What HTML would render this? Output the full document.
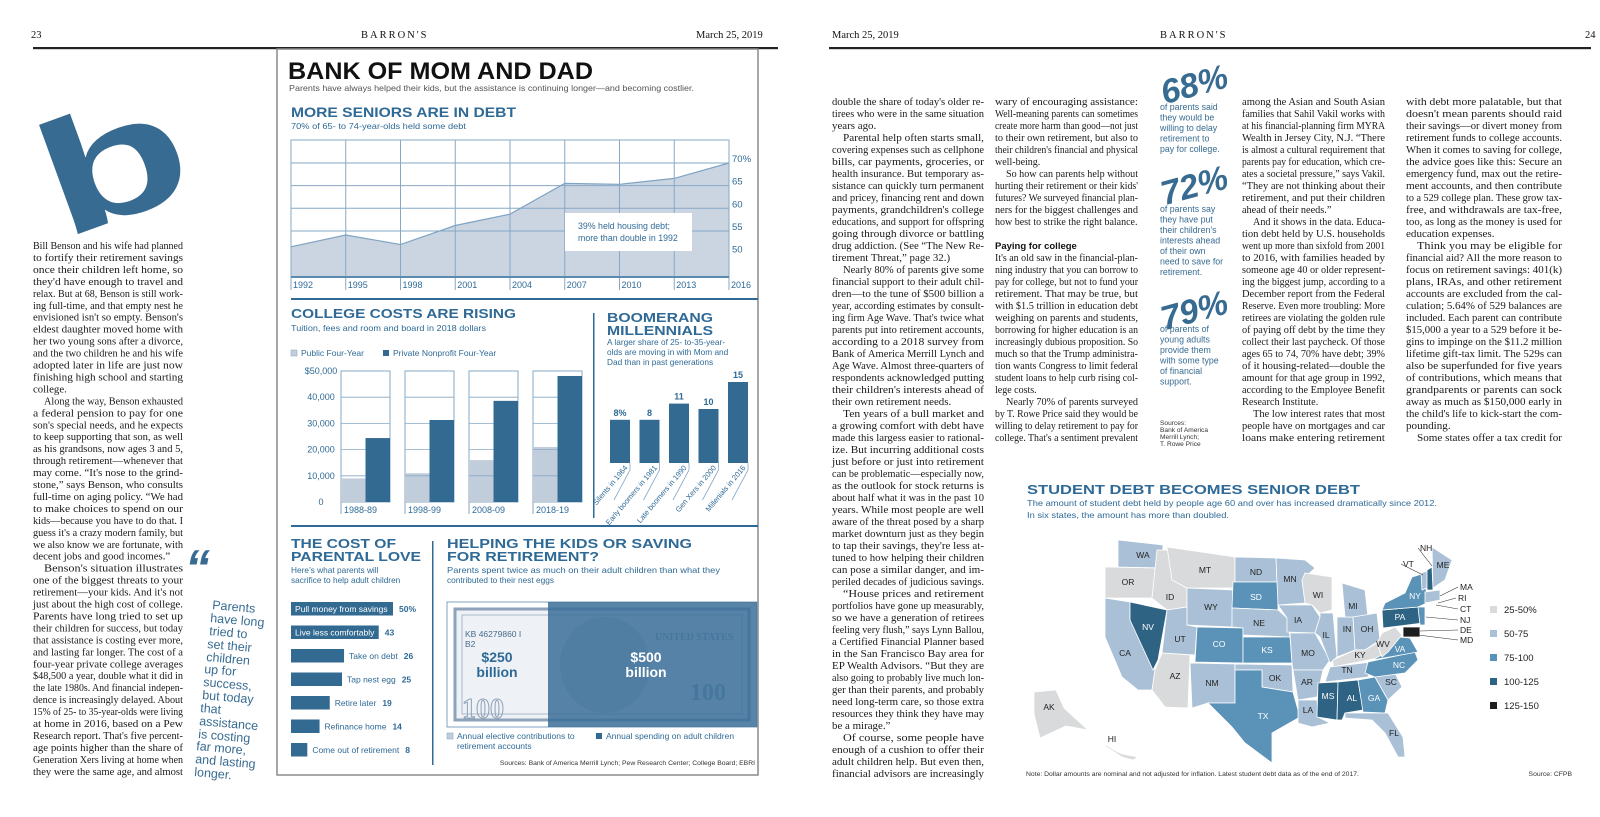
<!DOCTYPE html>
<html><head><meta charset="utf-8"><style>
html,body{margin:0;padding:0;background:#fff;}
svg{display:block;}
.serif{font-family:"Liberation Serif",serif;}
.sans{font-family:"Liberation Sans",sans-serif;}
</style></head><body>
<svg id="page" width="1600" height="817" viewBox="0 0 1600 817" xmlns="http://www.w3.org/2000/svg">
<!-- header -->
<g class="serif" font-size="10.5" fill="#111">
<text x="31" y="38">23</text>
<text x="361" y="38" letter-spacing="2">BARRON'S</text>
<text x="696" y="38">March 25, 2019</text>
<text x="832" y="38">March 25, 2019</text>
<text x="1160" y="38" letter-spacing="2">BARRON'S</text>
<text x="1585" y="38">24</text>
<rect x="33" y="47" width="745" height="2.2" fill="#222"/>
<rect x="829" y="47" width="762" height="2.2" fill="#222"/>
</g>
<!-- drop cap -->
<text class="sans" font-weight="bold" font-size="160" fill="#376b91" text-anchor="middle" y="58" transform="translate(112,160) rotate(-20) scale(1.5,1)">b</text>
<!-- pull quote -->
<g class="sans" fill="#376b91" font-size="12.5">
<text x="185" y="585" font-size="50" font-weight="bold" font-style="italic">“</text>
<text x="212" y="609" transform="rotate(5 212 609)">Parents</text>
<text x="210" y="622" transform="rotate(5 210 622)">have long</text>
<text x="209" y="635" transform="rotate(5 209 635)">tried to</text>
<text x="207" y="648" transform="rotate(5 207 648)">set their</text>
<text x="206" y="661" transform="rotate(5 206 661)">children</text>
<text x="204" y="673" transform="rotate(5 204 673)">up for</text>
<text x="203" y="686" transform="rotate(5 203 686)">success,</text>
<text x="202" y="699" transform="rotate(5 202 699)">but today</text>
<text x="200" y="712" transform="rotate(5 200 712)">that</text>
<text x="199" y="725" transform="rotate(5 199 725)">assistance</text>
<text x="198" y="738" transform="rotate(5 198 738)">is costing</text>
<text x="196" y="750" transform="rotate(5 196 750)">far more,</text>
<text x="195" y="763" transform="rotate(5 195 763)">and lasting</text>
<text x="194" y="776" transform="rotate(5 194 776)">longer.</text>
</g>
<!-- infographic box -->
<rect x="277" y="49" width="481" height="726" fill="none" stroke="#8a8a8a" stroke-width="1.5"/>
<g class="sans">
<text x="288" y="79" font-size="24" font-weight="bold" fill="#111" textLength="305" lengthAdjust="spacingAndGlyphs">BANK OF MOM AND DAD</text>
<text x="289" y="91" font-size="8.5" fill="#555" textLength="405" lengthAdjust="spacingAndGlyphs">Parents have always helped their kids, but the assistance is continuing longer—and becoming costlier.</text>
<text x="291" y="117" font-size="14" font-weight="bold" fill="#2f6a96" textLength="225" lengthAdjust="spacingAndGlyphs">MORE SENIORS ARE IN DEBT</text>
<text x="291" y="129" font-size="8.5" fill="#2f6a96" textLength="175" lengthAdjust="spacingAndGlyphs">70% of 65- to 74-year-olds held some debt</text>
<rect x="291" y="298" width="467" height="2" fill="#2f6a96"/>
<text x="291" y="318" font-size="13" font-weight="bold" fill="#2f6a96" textLength="225" lengthAdjust="spacingAndGlyphs">COLLEGE COSTS ARE RISING</text>
<text x="291" y="331" font-size="8.5" fill="#2f6a96" textLength="195" lengthAdjust="spacingAndGlyphs">Tuition, fees and room and board in 2018 dollars</text>
<rect x="291" y="350" width="6" height="6" fill="#c2cddc" stroke="#7fa3c2" stroke-width="0.5"/>
<text x="301" y="356" font-size="8.5" fill="#2f6a96">Public Four-Year</text>
<rect x="383" y="350" width="6" height="6" fill="#336a91"/>
<text x="393" y="356" font-size="8.5" fill="#2f6a96">Private Nonprofit Four-Year</text>
<rect x="593" y="313" width="1.5" height="205" fill="#2f6a96"/>
<text x="607" y="322" font-size="13" font-weight="bold" fill="#2f6a96" textLength="106" lengthAdjust="spacingAndGlyphs">BOOMERANG</text>
<text x="607" y="335" font-size="13" font-weight="bold" fill="#2f6a96" textLength="106" lengthAdjust="spacingAndGlyphs">MILLENNIALS</text>
<text x="607" y="345" font-size="8.3" fill="#2f6a96">A larger share of 25- to-35-year-</text>
<text x="607" y="355" font-size="8.3" fill="#2f6a96">olds are moving in with Mom and</text>
<text x="607" y="365" font-size="8.3" fill="#2f6a96">Dad than in past generations</text>
<rect x="291" y="525" width="467" height="2" fill="#2f6a96"/>
<text x="291" y="548" font-size="13" font-weight="bold" fill="#2f6a96" textLength="105" lengthAdjust="spacingAndGlyphs">THE COST OF</text>
<text x="291" y="561" font-size="13" font-weight="bold" fill="#2f6a96" textLength="130" lengthAdjust="spacingAndGlyphs">PARENTAL LOVE</text>
<text x="291" y="573" font-size="8.3" fill="#2f6a96">Here’s what parents will</text>
<text x="291" y="583" font-size="8.3" fill="#2f6a96">sacrifice to help adult children</text>
<rect x="432" y="541" width="1.5" height="224" fill="#2f6a96"/>
<text x="447" y="548" font-size="13" font-weight="bold" fill="#2f6a96" textLength="245" lengthAdjust="spacingAndGlyphs">HELPING THE KIDS OR SAVING</text>
<text x="447" y="561" font-size="13" font-weight="bold" fill="#2f6a96" textLength="152" lengthAdjust="spacingAndGlyphs">FOR RETIREMENT?</text>
<text x="447" y="573" font-size="8.3" fill="#2f6a96" textLength="273" lengthAdjust="spacingAndGlyphs">Parents spent twice as much on their adult children than what they</text>
<text x="447" y="583" font-size="8.3" fill="#2f6a96">contributed to their nest eggs</text>
</g>
<!-- dollar bill -->
<g>
<rect x="447" y="602" width="310" height="125" fill="#fff" stroke="#7fa3c2" stroke-width="1"/>
<rect x="455" y="609" width="294" height="111" fill="#eef1f5" stroke="#8ea3ba" stroke-width="3"/>
<rect x="462" y="615" width="280" height="99" fill="none" stroke="#a9b8c9" stroke-width="1"/>
<ellipse cx="605" cy="665" rx="45" ry="48" fill="#c9d3de"/>
<text x="462" y="718" class="serif" font-size="28" font-weight="bold" fill="none" stroke="#8ea3ba">100</text>
<text x="690" y="700" class="serif" font-size="24" font-weight="bold" fill="#8ea3ba">100</text>
<text x="465" y="637" class="sans" font-size="8.5" fill="#4a6b8c">KB 46279860 I</text>
<text x="465" y="647" class="sans" font-size="8.5" fill="#4a6b8c">B2</text>
<text x="655" y="640" class="serif" font-size="10" font-weight="bold" fill="#8ea3ba">UNITED STATES</text>
<rect x="548" y="602" width="209" height="125" fill="#3a6e98" opacity="0.85"/>
<text x="497" y="662" class="sans" font-size="14" font-weight="bold" fill="#2f6a96" text-anchor="middle">$250</text>
<text x="497" y="677" class="sans" font-size="14" font-weight="bold" fill="#2f6a96" text-anchor="middle">billion</text>
<text x="646" y="662" class="sans" font-size="14" font-weight="bold" fill="#fff" text-anchor="middle">$500</text>
<text x="646" y="677" class="sans" font-size="14" font-weight="bold" fill="#fff" text-anchor="middle">billion</text>
<rect x="447" y="733" width="6" height="6" fill="#c2cddc" stroke="#7fa3c2" stroke-width="0.5"/>
<text x="457" y="739" class="sans" font-size="8.5" fill="#2f6a96">Annual elective contributions to</text>
<text x="457" y="749" class="sans" font-size="8.5" fill="#2f6a96">retirement accounts</text>
<rect x="596" y="733" width="6" height="6" fill="#336a91"/>
<text x="606" y="739" class="sans" font-size="8.5" fill="#2f6a96">Annual spending on adult children</text>
<text x="755" y="765" class="sans" font-size="6.8" fill="#333" text-anchor="end">Sources: Bank of America Merrill Lynch; Pew Research Center; College Board; EBRI</text>
</g>
<!-- stats column -->
<g class="sans" fill="#376b91">
<text x="1160" y="97" font-size="34" font-weight="bold" font-style="italic" transform="rotate(-15 1190 84)">68%</text>
<text x="1160" y="198" font-size="34" font-weight="bold" font-style="italic" transform="rotate(-15 1190 185)">72%</text>
<text x="1160" y="323" font-size="34" font-weight="bold" font-style="italic" transform="rotate(-15 1190 310)">79%</text>
<g font-size="8.8">
<text x="1160" y="110">of parents said</text><text x="1160" y="120.5">they would be</text><text x="1160" y="131">willing to delay</text><text x="1160" y="141.5">retirement to</text><text x="1160" y="152">pay for college.</text></g>
<g font-size="8.8">
<text x="1160" y="212">of parents say</text><text x="1160" y="222.5">they have put</text><text x="1160" y="233">their children’s</text><text x="1160" y="243.5">interests ahead</text><text x="1160" y="254">of their own</text><text x="1160" y="264.5">need to save for</text><text x="1160" y="275">retirement.</text></g>
<g font-size="8.8">
<text x="1160" y="332">of parents of</text><text x="1160" y="342.5">young adults</text><text x="1160" y="353">provide them</text><text x="1160" y="363.5">with some type</text><text x="1160" y="374">of financial</text><text x="1160" y="384.5">support.</text></g>
<g font-size="6.6" fill="#333">
<text x="1160" y="425">Sources:</text><text x="1160" y="432">Bank of America</text><text x="1160" y="439">Merrill Lynch;</text><text x="1160" y="446">T. Rowe Price</text></g>
</g>
<text x="995" y="249" class="sans" font-size="9.5" font-weight="bold" fill="#111">Paying for college</text>
<!-- map section -->
<g class="sans">
<text x="1027" y="494" font-size="13" font-weight="bold" fill="#2f6a96" textLength="333" lengthAdjust="spacingAndGlyphs">STUDENT DEBT BECOMES SENIOR DEBT</text>
<text x="1027" y="506" font-size="8.5" fill="#2f6a96" textLength="410" lengthAdjust="spacingAndGlyphs">The amount of student debt held by people age 60 and over has increased dramatically since 2012.</text>
<text x="1027" y="518" font-size="8.5" fill="#2f6a96" textLength="202" lengthAdjust="spacingAndGlyphs">In six states, the amount has more than doubled.</text>
<text x="1026" y="776" font-size="6.8" fill="#333">Note: Dollar amounts are nominal and not adjusted for inflation. Latest student debt data as of the end of 2017.</text>
<text x="1572" y="776" font-size="6.8" fill="#333" text-anchor="end">Source: CFPB</text>
</g>
<g id="body-text" class="serif" font-size="10.6" fill="#1a1a1a"></g>
<g id="line-chart"></g>
<g id="college-chart"></g>
<g id="boom-chart"></g>
<g id="love-chart"></g>
<g id="map"></g>
<g id="map-legend"></g>
</svg>
<script>
// ---------- chart data ----------
const debtYears = ["1992","1995","1998","2001","2004","2007","2010","2013","2016"];
const debtShare = [51.5, 54.1, 52.0, 56.2, 58.7, 65.5, 65.3, 66.6, 70.0];
const debtTicks = [70, 65, 60, 55, 50];
const collegeYears = ["1988-89","1998-99","2008-09","2018-19"];
const publicCost = [9000, 11000, 16000, 21000];
const privateCost = [24400, 31300, 38600, 48100];
const collegeTicks = [50000, 40000, 30000, 20000, 10000, 0];
const collegeTickLabels = ["$50,000","40,000","30,000","20,000","10,000","0"];
const boomGroups = ["Silents in 1964","Early boomers in 1981","Late boomers in 1990","Gen Xers in 2000","Millenials in 2016"];
const boomValues = [8, 8, 11, 10, 15];
const boomLabels = ["8%","8","11","10","15"];
const loveItems = ["Pull money from savings","Live less comfortably","Take on debt","Tap nest egg","Retire later","Refinance home","Come out of retirement"];
const loveValues = [50, 43, 26, 25, 19, 14, 8];
const loveLabels = ["50%","43","26","25","19","14","8"];
const mapStates = ["WA","OR","CA","NV","ID","MT","WY","UT","AZ","CO","NM","ND","SD","NE","KS","OK","TX","MN","IA","MO","AR","LA","WI","IL","IN","MI","OH","KY","TN","MS","AL","GA","FL","SC","NC","VA","WV","PA","NY","NJ","MD","VT","NH","ME","MA","AK","HI"];
const mapBuckets = [1,0,1,3,0,0,1,1,0,2,1,1,2,1,2,1,2,1,1,1,1,1,0,1,1,1,1,0,1,3,3,2,1,1,2,2,0,3,2,2,4,1,3,1,1,0,0];
const legendLabels = ["25-50%","50-75","75-100","100-125","125-150"];

const NS="http://www.w3.org/2000/svg";
function mk(tag, attrs, parent){const e=document.createElementNS(NS,tag);for(const k in attrs)e.setAttribute(k,attrs[k]);parent.appendChild(e);return e;}
const BLUE="#336a91", GRID="#86a8c6", TXT="#2f6a96";

// ---------- line chart ----------
(function(){
const g=document.getElementById('line-chart');
const x0=291,x1=729,top=140,base=277;
const xL=i=>x0+i*(x1-x0)/(debtYears.length-1);
const yL=v=>163+(70-v)*4.53;
let pts=debtShare.map((v,i)=>xL(i)+","+yL(v)).join(" ");
const area=mk('polygon',{points:x0+","+base+" "+pts+" "+x1+","+base,fill:"#cbd5e2"},g);


const fr=mk('rect',{x:x0,y:top,width:x1-x0,height:base-top,fill:"none",stroke:GRID,"stroke-width":1},g);


debtTicks.forEach(t=>{
 if(t>50){const l=mk('line',{x1:x0,x2:x1,y1:yL(t),y2:yL(t),stroke:GRID,"stroke-width":1},g);
 
 }
 const tx=mk('text',{x:732,y:yL(t)-1,"font-size":9.5,fill:TXT,"font-family":"Liberation Sans, sans-serif"},g);
 tx.textContent=t===70?"70%":String(t);
 
 
});
debtYears.forEach((yr,i)=>{
 const x=xL(i);
 const l=mk('line',{x1:x,x2:x,y1:yL(debtShare[i]),y2:290,stroke:GRID,"stroke-width":1},g);
 
 
 const l2=mk('line',{x1:x,x2:x,y1:top,y2:yL(debtShare[i]),stroke:GRID,"stroke-width":1},g);
 
 
 const tx=mk('text',{x:x+2,y:288,"font-size":9,fill:TXT,"font-family":"Liberation Sans, sans-serif"},g);
 tx.textContent=yr;
 
 
});
const ln=mk('polyline',{points:pts,fill:"none",stroke:"#7fa3c2","stroke-width":1.2},g);


const ax=mk('line',{x1:x0,x2:x1,y1:base,y2:base,stroke:"#5a8ab0","stroke-width":2},g);


const ab=mk('rect',{x:565,y:213,width:127,height:38,fill:"#fff"},g);


["39% held housing debt;","more than double in 1992"].forEach((s,i)=>{
 const t=mk('text',{x:578,y:229+i*12,"font-size":8.8,fill:TXT,"font-family":"Liberation Sans, sans-serif"},g);
 t.textContent=s;
 
 
});
})();

// ---------- college chart ----------
(function(){
const g=document.getElementById('college-chart');
const y=v=>502-v*131/50000;
const gx=i=>341+i*64;
collegeTicks.forEach((t,i)=>{
 const tx=mk('text',{x:321,y:y(t)+3,"font-size":9,fill:TXT,"text-anchor":"middle","font-family":"Liberation Sans, sans-serif"},g);
 tx.textContent=collegeTickLabels[i];
 
 
});
collegeYears.forEach((yr,i)=>{
 const x=gx(i), w=49;
 const box=mk('rect',{x:x,y:y(50000),width:w,height:y(0)-y(50000),fill:"#fff",stroke:GRID,"stroke-width":1},g);
 
 
 const pb=mk('rect',{x:x,y:y(publicCost[i]),width:w/2,height:y(0)-y(publicCost[i]),fill:"#c2cddc"},g);
 
 
 collegeTicks.forEach(t=>{ if(t>0&&t<50000){const l=mk('line',{x1:x,x2:x+w,y1:y(t),y2:y(t),stroke:GRID,"stroke-width":0.8},g);
  
  }});
 const vb=mk('rect',{x:x+w/2,y:y(privateCost[i]),width:w/2,height:y(0)-y(privateCost[i]),fill:BLUE},g);
 
 
 const tk=mk('line',{x1:x,x2:x,y1:502,y2:514,stroke:GRID,"stroke-width":1},g);
 
 
 const tx=mk('text',{x:x+3,y:513,"font-size":9,fill:TXT,"font-family":"Liberation Sans, sans-serif"},g);
 tx.textContent=yr;
 
 
});
})();

// ---------- boomerang chart ----------
(function(){
const g=document.getElementById('boom-chart');
const y=v=>463-v*5.4;
boomValues.forEach((v,i)=>{
 const x=610+i*29.5;
 const b=mk('rect',{x:x,y:y(v),width:20,height:463-y(v),fill:BLUE},g);
 
 
 const t=mk('text',{x:x+10,y:y(v)-4,"font-size":9,"font-weight":"bold",fill:TXT,"text-anchor":"middle","font-family":"Liberation Sans, sans-serif"},g);
 t.textContent=boomLabels[i];
 
 
 const l=mk('polyline',{points:(x+20)+",463 "+(x+20)+",470 "+(x+4)+",500",fill:"none",stroke:GRID,"stroke-width":0.8},g);
 
 
 const c=mk('text',{x:0,y:0,"font-size":7.5,fill:TXT,"text-anchor":"end","font-family":"Liberation Sans, sans-serif",transform:"translate("+(x+18)+",468) rotate(-50)"},g);
 c.textContent=boomGroups[i];
 
 
});
})();

// ---------- parental love chart ----------
(function(){
const g=document.getElementById('love-chart');
loveValues.forEach((v,i)=>{
 const yy=602+i*23.5, w=v*2.04;
 const b=mk('rect',{x:291,y:yy,width:w,height:13.5,fill:BLUE},g);
 
 
 const inside=i<2;
 const t=mk('text',{x:inside?295:291+w+5,y:yy+10,"font-size":8.5,fill:inside?"#fff":TXT,"font-family":"Liberation Sans, sans-serif"},g);
 t.textContent=loveItems[i];
 
 
 const lx=inside?291+w+6:291+w+8+t.getComputedTextLength()+3;
 const vt=mk('text',{x:lx,y:yy+10,"font-size":8.5,"font-weight":"bold",fill:TXT,"font-family":"Liberation Sans, sans-serif"},g);
 vt.textContent=loveLabels[i];
 
 
});
})();

// ---------- map ----------
(function(){
const g=document.getElementById('map');
const fills=["#d9dadb","#a9c0d6","#5b93b8","#2f6384","#1e1e1e"];
const shapes={
WA:"1118,540 1163,545 1162,568 1118,567",
OR:"1105,567 1157,568 1152,598 1105,598",
CA:"1105,598 1130,602 1130,620 1155,670 1152,690 1138,690 1122,677 1105,637",
NV:"1130,602 1167,610 1158,660 1153,670 1130,620",
ID:"1157,550 1168,550 1172,580 1187,588 1187,607 1167,610 1152,598",
MT:"1167,547 1235,557 1235,588 1187,588 1172,580",
WY:"1187,588 1233,590 1232,627 1187,625",
UT:"1167,610 1187,607 1187,625 1197,627 1195,655 1162,653",
AZ:"1162,653 1190,655 1188,708 1165,707 1152,690 1155,670",
CO:"1197,627 1243,628 1243,663 1195,662",
NM:"1190,663 1235,664 1235,703 1208,703 1192,708",
ND:"1235,557 1276,558 1277,582 1235,582",
SD:"1233,582 1278,582 1278,610 1232,608",
NE:"1232,608 1278,610 1287,618 1290,637 1243,635 1243,628 1232,627",
KS:"1243,637 1290,637 1292,663 1243,663",
OK:"1235,664 1292,665 1293,692 1262,687 1262,670 1235,670",
TX:"1235,670 1262,670 1262,687 1293,692 1300,717 1272,733 1272,763 1245,743 1232,727 1208,703 1235,703",
MN:"1276,558 1305,560 1315,568 1302,580 1305,603 1278,605 1277,582",
IA:"1278,605 1312,605 1320,617 1315,633 1287,632 1287,618",
MO:"1290,633 1315,633 1330,660 1323,670 1293,670 1292,663",
AR:"1293,670 1323,670 1317,697 1298,700",
LA:"1298,700 1317,700 1318,717 1330,723 1312,727 1298,723",
WI:"1305,573 1332,577 1332,610 1320,613 1312,605 1305,603 1302,580",
IL:"1320,613 1333,613 1337,657 1330,663 1320,637 1315,633 1320,617",
IN:"1337,617 1353,617 1355,650 1337,657",
MI:"1342,583 1365,590 1368,617 1345,617",
OH:"1353,617 1377,613 1380,640 1365,650 1355,650",
KY:"1333,660 1355,650 1365,650 1377,643 1382,657 1368,660 1333,667",
TN:"1330,667 1372,662 1368,677 1325,682",
MS:"1318,683 1338,682 1337,720 1317,717",
AL:"1338,682 1358,680 1363,710 1345,713 1342,720 1337,720",
GA:"1358,680 1375,677 1388,700 1385,713 1363,712",
FL:"1345,713 1388,713 1403,737 1405,757 1398,757 1385,733 1372,720 1345,718",
SC:"1375,677 1395,673 1402,687 1388,700",
NC:"1368,662 1415,652 1418,660 1405,673 1375,677 1365,673",
VA:"1372,660 1388,652 1398,637 1410,638 1418,652",
WV:"1377,643 1382,633 1395,627 1402,635 1388,652 1382,657",
PA:"1382,610 1418,607 1423,623 1383,628",
NY:"1385,603 1405,593 1412,577 1425,573 1427,603 1418,607 1382,610",
NJ:"1418,607 1425,607 1425,625 1420,625",
MD:"1403,627 1420,627 1420,637 1403,637",
VT:"1421,573 1427,571 1427,588 1422,590",
NH:"1427,570 1432,567 1433,590 1427,590",
ME:"1432,547 1452,560 1445,580 1433,588",
MA:"1425,592 1440,590 1440,600 1425,603",
AK:"1034,692 1056,690 1064,708 1088,730 1066,726 1040,738 1034,714",
HI:"1102,744 1108,746 1114,750 1122,754 1138,757 1133,760 1122,757"
};
const lab={WA:[1143,558],OR:[1128,585],ID:[1170,600],MT:[1205,573],WY:[1211,610],NV:[1148,630],UT:[1180,642],CA:[1125,656],AZ:[1175,679],CO:[1219,647],NM:[1212,686],ND:[1256,575],SD:[1256,600],NE:[1259,626],KS:[1267,653],OK:[1275,681],TX:[1263,719],MN:[1290,582],IA:[1298,623],MO:[1308,656],AR:[1307,685],LA:[1308,713],WI:[1318,598],IL:[1326,638],IN:[1347,632],MI:[1353,609],OH:[1367,632],KY:[1360,658],TN:[1347,673],MS:[1328,699],AL:[1352,701],GA:[1374,701],SC:[1391,685],NC:[1399,668],VA:[1400,652],WV:[1383,647],PA:[1400,620],NY:[1415,599],FL:[1394,736],ME:[1443,568],AK:[1049,710],HI:[1112,742]};
mapStates.forEach((s,i)=>{
 const p=mk('polygon',{points:shapes[s],fill:fills[mapBuckets[i]],stroke:"#fff","stroke-width":0.8},g);
 
 
 if(lab[s]){
  const t=mk('text',{x:lab[s][0],y:lab[s][1],"font-size":8.5,"text-anchor":"middle",fill:mapBuckets[i]>=2?"#fff":"#222","font-family":"Liberation Sans, sans-serif"},g);
  if(s==="HI"||s==="AK")t.setAttribute('fill',"#222");
  t.textContent=s;
  
  
 }
});
const callouts=[["NH",1420,551,1432,566],["VT",1403,567,1423,575],["MA",1460,590,1440,596],["RI",1458,601,1438,603],["CT",1460,612,1436,605],["NJ",1460,623,1426,617],["DE",1460,633,1420,631],["MD",1460,643,1418,635]];
callouts.forEach(c=>{
 const l=mk('line',{x1:c[1]-2,y1:c[2]-3,x2:c[3],y2:c[4],stroke:"#333","stroke-width":0.6},g);
 
 
 const t=mk('text',{x:c[1],y:c[2],"font-size":8.5,fill:"#222","font-family":"Liberation Sans, sans-serif"},g);
 t.textContent=c[0];
 
 
});
const lg=document.getElementById('map-legend');
legendLabels.forEach((s,i)=>{
 const yy=612+i*24;
 const r=mk('rect',{x:1490,y:yy-6,width:7,height:7,fill:fills[i]},lg);
 
 
 const t=mk('text',{x:1504,y:yy+1,"font-size":9.5,fill:"#222","font-family":"Liberation Sans, sans-serif"},lg);
 t.textContent=s;
 
 
});
})();

// ---------- article body text ----------
(function(){
const g=document.getElementById('body-text');
const cols=[
{x:33,y:249,w:150,lh:11.95,lines:[
"Bill Benson and his wife had planned","to fortify their retirement savings","once their children left home, so","they'd have enough to travel and","relax. But at 68, Benson is still work-","ing full-time, and that empty nest he","envisioned isn't so empty. Benson's","eldest daughter moved home with","her two young sons after a divorce,","and the two children he and his wife","adopted later in life are just now","finishing  high school and starting","college.¶",
"  Along the way, Benson exhausted","a federal pension to pay for one","son's special needs, and he expects","to keep supporting that son, as well","as his grandsons, now ages 3 and 5,","through retirement—whenever that","may come. “It's nose to the grind-","stone,” says Benson, who consults","full-time on aging policy. “We had","to make choices to spend on our","kids—because you have to do that. I","guess it's a crazy modern family, but","we also know we are fortunate, with","decent jobs and good incomes.”¶",
"  Benson's situation illustrates","one of the biggest threats to your","retirement—your kids. And it's not","just about the high cost of college.","Parents have long tried to set up","their children for success, but today","that assistance is costing ever more,","and lasting far longer. The cost of a","four-year private college averages","$48,500 a year, double what it did in","the late 1980s. And financial indepen-","dence is increasingly delayed. About","15% of 25- to 35-year-olds were living","at home in 2016, based on a Pew","Research report. That's five percent-","age points higher than the share of","Generation Xers living at home when","they were the same age, and almost"]},
{x:832,y:105,w:152,lh:12,lines:[
"double the share of today's older re-","tirees who were in the same situation","years ago.¶",
"  Parental help often starts small,","covering expenses such as cellphone","bills, car payments, groceries, or","health insurance. But temporary as-","sistance can quickly turn permanent","and pricey, financing rent and down","payments, grandchildren's college","educations, and support for offspring","going through divorce or battling","drug addiction. (See “The New Re-","tirement Threat,” page 32.)¶",
"  Nearly 80% of parents give some","financial support to their adult chil-","dren—to the tune of $500 billion a","year, according estimates by consult-","ing firm Age Wave. That's twice what","parents put into retirement accounts,","according to a 2018 survey from","Bank of America Merrill Lynch and","Age Wave. Almost three-quarters of","respondents acknowledged putting","their children's interests ahead of","their own retirement needs.¶",
"  Ten years of a bull market and","a growing comfort with debt have","made this largess easier to rational-","ize. But incurring additional costs","just before or just into retirement","can be problematic—especially now,","as the outlook for stock returns is","about half what it was in the past 10","years. While most people are well","aware of the threat posed by a sharp","market downturn just as they begin","to tap their savings, they're less at-","tuned to how helping their children","can pose a similar danger, and im-","periled decades of judicious savings.¶",
"  “House prices and retirement","portfolios have gone up measurably,","so we have a generation of retirees","feeling very flush,” says Lynn Ballou,","a Certified Financial Planner based","in the San Francisco Bay area for","EP Wealth Advisors. “But they are","also going to probably live much lon-","ger than their parents, and probably","need long-term care, so those extra","resources they think they have may","be a mirage.”¶",
"  Of course, some people have","enough of a cushion to offer their","adult children help. But even then,","financial advisors are increasingly"]},
{x:995,y:105,w:143,lh:12,lines:[
"wary of encouraging assistance:","Well-meaning parents can sometimes","create more harm than good—not just","to their own retirement, but also to","their children's financial and physical","well-being.¶",
"  So how can parents help without","hurting their retirement or their kids'","futures? We surveyed financial plan-","ners for the biggest challenges and","how best to strike the right balance.¶",
"¶","¶",
"It's an old saw in the financial-plan-","ning industry that you can borrow to","pay for college, but not to fund your","retirement. That may be true, but","with $1.5 trillion in education debt","weighing on parents and students,","borrowing for higher education is an","increasingly dubious proposition. So","much so that the Trump administra-","tion wants Congress to limit federal","student loans to help curb rising col-","lege costs.¶",
"  Nearly 70% of parents surveyed","by T. Rowe Price said they would be","willing to delay retirement to pay for","college. That's a sentiment prevalent"]},
{x:1242,y:105,w:143,lh:12,lines:[
"among the Asian and South Asian","families that Sahil Vakil works with","at his financial-planning firm MYRA","Wealth in Jersey City, N.J. “There","is almost a cultural requirement that","parents pay for education, which cre-","ates a societal pressure,” says Vakil.","“They are not thinking about their","retirement, and put their children","ahead of their needs.”¶",
"  And it shows in the data. Educa-","tion debt held by U.S. households","went up more than sixfold from 2001","to 2016, with families headed by","someone age 40 or older represent-","ing the biggest jump, according to a","December report from the Federal","Reserve. Even more troubling: More","retirees are violating the golden rule","of paying off debt by the time they","collect their last paycheck. Of those","ages 65 to 74, 70% have debt; 39%","of it housing-related—double the","amount for that age group in 1992,","according to the Employee Benefit","Research Institute.¶",
"  The low interest rates that most","people have on mortgages and car","loans make entering retirement"]},
{x:1406,y:105,w:156,lh:12,lines:[
"with debt more palatable, but that","doesn't mean parents should raid","their savings—or divert money from","retirement funds to college accounts.","When it comes to saving for college,","the advice goes like this: Secure an","emergency fund, max out the retire-","ment accounts, and then contribute","to a 529 college plan. These grow tax-","free, and withdrawals are tax-free,","too, as long as the money is used for","education expenses.¶",
"  Think you may be eligible for","financial aid? All the more reason to","focus on retirement savings: 401(k)","plans, IRAs, and other retirement","accounts are excluded from the cal-","culation; 5.64% of 529 balances are","included. Each parent can contribute","$15,000 a year to a 529 before it be-","gins to impinge on the $11.2 million","lifetime gift-tax limit. The 529s can","also be superfunded for five years","of contributions, which means that","grandparents or parents can sock","away as much as $150,000 early in","the child's life to kick-start the com-","pounding.¶",
"  Some states offer a tax credit for"]}
];
cols.forEach((c,ci)=>{
 const items=[];
 c.lines.forEach((raw,i)=>{
  let s=raw, end=false, ind=0;
  if(s.endsWith("¶")){end=true;s=s.slice(0,-1);}
  if(s.startsWith("  ")){ind=11;s=s.slice(2);}
  if(!s)return;
  const t=mk('text',{x:c.x+ind,y:(c.y+i*c.lh).toFixed(1)},g);
  t.textContent=s;
  
  
  items.push({t:t,nat:t.getComputedTextLength(),avail:c.w-ind,end:end});
 });
 let sum=0,n=0;
 items.forEach(it=>{if(!it.end){sum+=it.avail/it.nat;n++;}});
 const avg=n?sum/n:1;
 items.forEach(it=>{
  const L=it.end?Math.min(it.nat*avg,it.avail):it.avail;
  it.t.setAttribute('textLength',L.toFixed(1));
  it.t.setAttribute('lengthAdjust','spacingAndGlyphs');
 });
});
})();
</script>
</body></html>
